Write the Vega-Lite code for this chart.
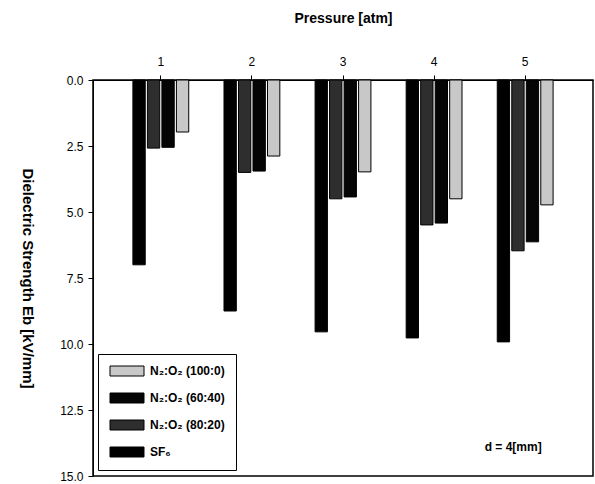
{
  "$schema": "https://vega.github.io/schema/vega-lite/v6.json",
  "width": 500,
  "height": 396,
  "autosize": {"type": "none"},
  "padding": {"left": 93, "top": 80, "right": 2, "bottom": 8},
  "background": "white",
  "config": {
    "font": "Liberation Sans",
    "view": {"stroke": "black", "strokeWidth": 1.5},
    "axis": {"domainColor": "black", "tickColor": "black", "labelColor": "black", "titleColor": "black", "grid": false}
  },
  "datasets": {
    "bars": [
      {"pressure": "1", "gas": "SF₆", "value": 7.0},
      {"pressure": "1", "gas": "N₂:O₂ (80:20)", "value": 2.58},
      {"pressure": "1", "gas": "N₂:O₂ (60:40)", "value": 2.55},
      {"pressure": "1", "gas": "N₂:O₂ (100:0)", "value": 1.97},
      {"pressure": "2", "gas": "SF₆", "value": 8.75},
      {"pressure": "2", "gas": "N₂:O₂ (80:20)", "value": 3.5},
      {"pressure": "2", "gas": "N₂:O₂ (60:40)", "value": 3.45},
      {"pressure": "2", "gas": "N₂:O₂ (100:0)", "value": 2.88},
      {"pressure": "3", "gas": "SF₆", "value": 9.54},
      {"pressure": "3", "gas": "N₂:O₂ (80:20)", "value": 4.5},
      {"pressure": "3", "gas": "N₂:O₂ (60:40)", "value": 4.43},
      {"pressure": "3", "gas": "N₂:O₂ (100:0)", "value": 3.48},
      {"pressure": "4", "gas": "SF₆", "value": 9.77},
      {"pressure": "4", "gas": "N₂:O₂ (80:20)", "value": 5.49},
      {"pressure": "4", "gas": "N₂:O₂ (60:40)", "value": 5.42},
      {"pressure": "4", "gas": "N₂:O₂ (100:0)", "value": 4.5},
      {"pressure": "5", "gas": "SF₆", "value": 9.92},
      {"pressure": "5", "gas": "N₂:O₂ (80:20)", "value": 6.47},
      {"pressure": "5", "gas": "N₂:O₂ (60:40)", "value": 6.13},
      {"pressure": "5", "gas": "N₂:O₂ (100:0)", "value": 4.73}
    ],
    "note": [{"pressure": "5", "value": 13.9, "label": "d = 4[mm]"}]
  },
  "layer": [
    {
      "data": {"name": "bars"},
      "mark": {"type": "bar", "stroke": "black", "strokeWidth": 1},
      "encoding": {
        "x": {
          "field": "pressure", "type": "nominal",
          "scale": {"paddingInner": 0.387, "paddingOuter": 0.438},
          "axis": {
            "orient": "top", "labelAngle": 0, "title": "Pressure [atm]",
            "labelFontSize": 12, "labelPadding": 7, "tickSize": 5,
            "titleFontSize": 14, "titleFontWeight": "bold", "titlePadding": 30
          }
        },
        "xOffset": {
          "field": "gas", "type": "nominal",
          "sort": ["SF₆", "N₂:O₂ (80:20)", "N₂:O₂ (60:40)", "N₂:O₂ (100:0)"],
          "scale": {"paddingInner": 0.15}
        },
        "y": {
          "field": "value", "type": "quantitative",
          "scale": {"domain": [0, 15], "reverse": true, "nice": false},
          "axis": {
            "values": [0, 2.5, 5, 7.5, 10, 12.5, 15], "format": ".1f",
            "title": "Dielectric Strength Eb [kV/mm]",
            "labelFontSize": 12, "tickSize": 5, "labelPadding": 5,
            "titleFontSize": 15, "titleFontWeight": "bold",
            "titleAngle": 90, "titleX": -66, "titleBaseline": "middle"
          }
        },
        "color": {
          "field": "gas", "type": "nominal",
          "scale": {
            "domain": ["N₂:O₂ (100:0)", "N₂:O₂ (60:40)", "N₂:O₂ (80:20)", "SF₆"],
            "range": ["#c8c8c8", "#050505", "#2e2e2e", "#000000"]
          },
          "legend": {
            "orient": "none", "legendX": 5, "legendY": 274, "title": null,
            "strokeColor": "black", "fillColor": "white", "padding": 11,
            "symbolType": "M-3.4,-1H3.4V1H-3.4Z", "symbolSize": 100,
            "symbolOffset": 12,
            "symbolStrokeColor": "black", "symbolStrokeWidth": 1,
            "labelFontSize": 12, "labelFontWeight": "bold", "labelColor": "black",
            "labelOffset": 17, "rowPadding": 13
          }
        }
      }
    },
    {
      "data": {"name": "note"},
      "mark": {"type": "text", "fontSize": 12, "fontWeight": "bold", "dx": -12, "color": "black"},
      "encoding": {
        "x": {"field": "pressure", "type": "nominal"},
        "y": {"field": "value", "type": "quantitative"},
        "text": {"field": "label"}
      }
    }
  ]
}
